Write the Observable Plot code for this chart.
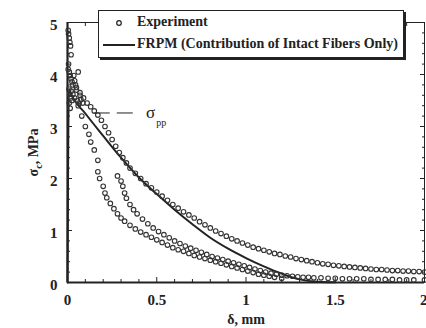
<!DOCTYPE html>
<html><head><meta charset="utf-8">
<script src="https://cdn.jsdelivr.net/npm/d3@7"></script>
<script src="https://cdn.jsdelivr.net/npm/@observablehq/plot@0.6"></script>
<style>
body{margin:0;background:#fff;}
#wrap{position:relative;width:426px;height:328px;overflow:hidden;}
#legend{position:absolute;left:98px;top:10px;width:304px;height:46px;background:#fff;border:1.5px solid #222;box-shadow:2px 2px 0 #222;font:bold 14px "Liberation Serif","Times New Roman",serif;color:#222;}
#legend div{position:absolute;left:38px;white-space:nowrap;}
</style></head><body><div id="wrap"><div id="legend"><svg width="40" height="46" style="position:absolute;left:0;top:0"><circle cx="20" cy="12" r="2.3" fill="none" stroke="#222" stroke-width="1.2"/><line x1="4" x2="36" y1="34" y2="34" stroke="#222" stroke-width="2"/></svg><div style="top:3px">Experiment</div><div style="top:25px">FRPM (Contribution of Intact Fibers Only)</div></div></div>
<script>
// tick values / labels
const xMajor = [0, 0.5, 1, 1.5, 2];
const xMinor = [0.1,0.2,0.3,0.4,0.6,0.7,0.8,0.9,1.1,1.2,1.3,1.4,1.6,1.7,1.8,1.9];
const yMajor = [0, 1, 2, 3, 4, 5];
const yMinor = [0.2,0.4,0.6,0.8,1.2,1.4,1.6,1.8,2.2,2.4,2.6,2.8,3.2,3.4,3.6,3.8,4.2,4.4,4.6,4.8];

// FRPM model curve (delta mm, sigma MPa)
const frpm = [[0,0],[0.008,3.72],[0.02,3.62],[0.1,3.25],[0.2,2.82],[0.3,2.4],[0.4,2.02],[0.5,1.7],[0.6,1.4],[0.7,1.12],[0.8,0.86],[0.9,0.65],[1.0,0.47],[1.1,0.31],[1.2,0.17],[1.3,0.06],[1.4,0.015],[1.5,0.005]];

// Experiment: initial peak region
const expPeak = [[0.004,4.85],[0.006,4.78],[0.01,4.7],[0.013,4.62],[0.017,4.55],[0.02,4.38],[0.006,4.2],[0.004,4.1],[0.01,4.05],[0.015,3.98],[0.02,3.92],[0.025,3.86],[0.03,3.8],[0.008,3.72],[0.035,3.98],[0.04,3.88],[0.045,3.8],[0.06,4.05],[0.05,3.7],[0.012,3.62],[0.018,3.55],[0.025,3.5],[0.03,3.62],[0.04,3.55],[0.055,3.5],[0.065,3.45],[0.07,3.6],[0.075,3.52],[0.085,3.45],[0.02,3.68],[0.01,3.45],[0.015,3.35]];
// Experiment: upper branch (long tail)
const expUpper = [[0.05,3.75],[0.07,3.65],[0.09,3.55],[0.11,3.45],[0.13,3.38],[0.15,3.3],[0.17,3.22],[0.19,3.12],[0.21,3.0],[0.23,2.88],[0.25,2.75],[0.27,2.62],[0.29,2.5],[0.31,2.4],[0.33,2.3],[0.35,2.2],[0.38,2.1],[0.41,2.0],[0.44,1.9],[0.47,1.82],[0.5,1.74],[0.53,1.66],[0.56,1.58],[0.59,1.5],[0.62,1.43],[0.65,1.36],[0.68,1.3],[0.71,1.24],[0.74,1.17],[0.77,1.11],[0.8,1.05],[0.83,0.99],[0.86,0.94],[0.89,0.89],[0.92,0.84],[0.95,0.8],[0.98,0.76],[1.01,0.72],[1.04,0.68],[1.07,0.65],[1.1,0.62],[1.13,0.59],[1.16,0.56],[1.19,0.54],[1.22,0.51],[1.25,0.49],[1.28,0.46],[1.31,0.44],[1.34,0.42],[1.37,0.4],[1.4,0.38],[1.43,0.36],[1.46,0.35],[1.49,0.33],[1.52,0.32],[1.55,0.31],[1.58,0.3],[1.61,0.29],[1.64,0.28],[1.67,0.27],[1.7,0.26],[1.73,0.25],[1.76,0.25],[1.79,0.24],[1.82,0.23],[1.85,0.23],[1.88,0.22],[1.91,0.22],[1.94,0.21],[1.97,0.21],[2.0,0.2]];
// Experiment: steep lower branch
const expLowA = [[0.06,3.4],[0.08,3.2],[0.1,3.0],[0.12,2.85],[0.13,2.7],[0.15,2.55],[0.17,2.35],[0.17,2.13],[0.18,2.0],[0.2,1.85],[0.21,1.72],[0.22,1.63],[0.24,1.52],[0.26,1.42],[0.28,1.32],[0.3,1.24],[0.32,1.18],[0.35,1.1],[0.38,1.03],[0.41,0.97],[0.44,0.92],[0.47,0.87],[0.5,0.82],[0.53,0.77],[0.56,0.72],[0.59,0.67],[0.62,0.63],[0.65,0.6],[0.68,0.56],[0.71,0.52],[0.74,0.49],[0.77,0.46],[0.8,0.43],[0.83,0.4],[0.86,0.37],[0.89,0.34],[0.92,0.31],[0.95,0.28],[0.98,0.25],[1.01,0.22],[1.04,0.19],[1.07,0.16],[1.1,0.14],[1.13,0.12],[1.16,0.1],[1.2,0.08]];
// Experiment: middle branch
const expLowB = [[0.28,2.05],[0.3,1.95],[0.31,1.85],[0.32,1.72],[0.33,1.62],[0.35,1.5],[0.37,1.4],[0.39,1.32],[0.42,1.22],[0.45,1.13],[0.48,1.05],[0.51,0.98],[0.54,0.92],[0.57,0.86],[0.6,0.8],[0.63,0.75],[0.66,0.7],[0.69,0.66],[0.72,0.62],[0.75,0.58],[0.78,0.54],[0.81,0.5],[0.84,0.47],[0.87,0.44],[0.9,0.41],[0.93,0.38],[0.96,0.35],[0.99,0.32],[1.02,0.29],[1.05,0.26],[1.08,0.23],[1.11,0.2],[1.14,0.18],[1.17,0.16],[1.2,0.14],[1.23,0.13],[1.26,0.12],[1.29,0.11],[1.32,0.1],[1.35,0.1],[1.38,0.09],[1.42,0.09],[1.46,0.08],[1.5,0.08],[1.54,0.07],[1.58,0.07],[1.62,0.07],[1.66,0.07],[1.7,0.06],[1.74,0.06],[1.78,0.06],[1.82,0.06],[1.86,0.05],[1.9,0.05],[1.94,0.05],[2.0,0.05]];
const sigmaPP = 3.26;
const ppLine = [0.15, 0.37];

const ink = "#222";
const serif = "'Liberation Serif', 'Times New Roman', serif";
const plot = Plot.plot({
  width: 426, height: 328,
  marginLeft: 67, marginRight: 2, marginTop: 22, marginBottom: 46,
  x: {domain: [0, 2], label: null},
  y: {domain: [0, 5], label: null},
  style: {fontFamily: serif, fontSize: "15px", fontWeight: "bold", color: ink, background: "#fff", overflow: "visible"},
  marks: [
    Plot.frame({stroke: ink, strokeWidth: 1}),
    Plot.axisX({anchor: "bottom", ticks: xMinor, tickSize: -3, text: null, stroke: ink}),
    Plot.axisX({anchor: "bottom", ticks: xMajor, tickSize: -5, text: null, stroke: ink}),
    Plot.axisX({anchor: "top", ticks: xMinor, tickSize: -3, text: null, stroke: ink}),
    Plot.axisX({anchor: "top", ticks: xMajor, tickSize: -5, text: null, stroke: ink}),
    Plot.axisX({anchor: "bottom", ticks: xMajor.slice(0, -1), tickSize: 0, tickPadding: 12, tickFormat: d => String(d)}),
    Plot.axisX({anchor: "bottom", ticks: xMajor.slice(-1), tickSize: 0, tickPadding: 12, tickFormat: d => String(d), textAnchor: "end", dx: 3}),
    Plot.axisY({anchor: "left", ticks: yMinor, tickSize: -3, text: null, stroke: ink}),
    Plot.axisY({anchor: "left", ticks: yMajor, tickSize: -5, text: null, stroke: ink}),
    Plot.axisY({anchor: "right", ticks: yMinor, tickSize: -3, text: null, stroke: ink}),
    Plot.axisY({anchor: "right", ticks: yMajor, tickSize: -5, text: null, stroke: ink}),
    Plot.axisY({anchor: "left", ticks: yMajor, tickSize: 0, tickPadding: 10, dy: 3, tickFormat: d => String(d)}),
    Plot.ruleX([0], {stroke: ink, strokeWidth: 2.2}),
    Plot.ruleY([0], {stroke: ink, strokeWidth: 2.2}),
    Plot.line(frpm, {x: d => d[0], y: d => d[1], stroke: ink, strokeWidth: 2, curve: "monotone-x"}),
    ...[expPeak, expUpper, expLowA, expLowB].map(arr => Plot.dot(arr, {x: d => d[0], y: d => d[1], r: 2.3, stroke: "#333", strokeWidth: 1.1, fill: "none"})),
    Plot.ruleY([sigmaPP], {x1: ppLine[0], x2: ppLine[1], stroke: ink, strokeWidth: 1, strokeDasharray: "16,7"}),
    Plot.text(["σpp"], {x: ppLine[1] + 0.07, y: sigmaPP, text: d => d, textAnchor: "start", fontSize: 17, fontWeight: "normal"}),
    Plot.text(["σc, MPa"], {frameAnchor: "left", dx: -34, rotate: -90, textAnchor: "middle", lineAnchor: "middle", text: d => d, fontSize: 14}),
    Plot.text(["δ, mm"], {x: 1, frameAnchor: "bottom", dy: 37, lineAnchor: "middle", text: d => d, fontSize: 14})
  ]
});
document.getElementById("wrap").prepend(plot);
// subscripts
d3.select(plot).selectAll("text").each(function() {
  const t = d3.select(this);
  const s = t.text();
  if (s === "σpp") {
    t.text("σ"); t.append("tspan").attr("dy", 8).attr("dx", 1).attr("font-size", 10).text("pp");
  } else if (s === "σc, MPa") {
    t.text("σ"); t.append("tspan").attr("dy", 4).attr("font-size", 10).text("c");
    t.append("tspan").attr("dy", -4).text(", MPa");
  }
});
</script></body></html>
